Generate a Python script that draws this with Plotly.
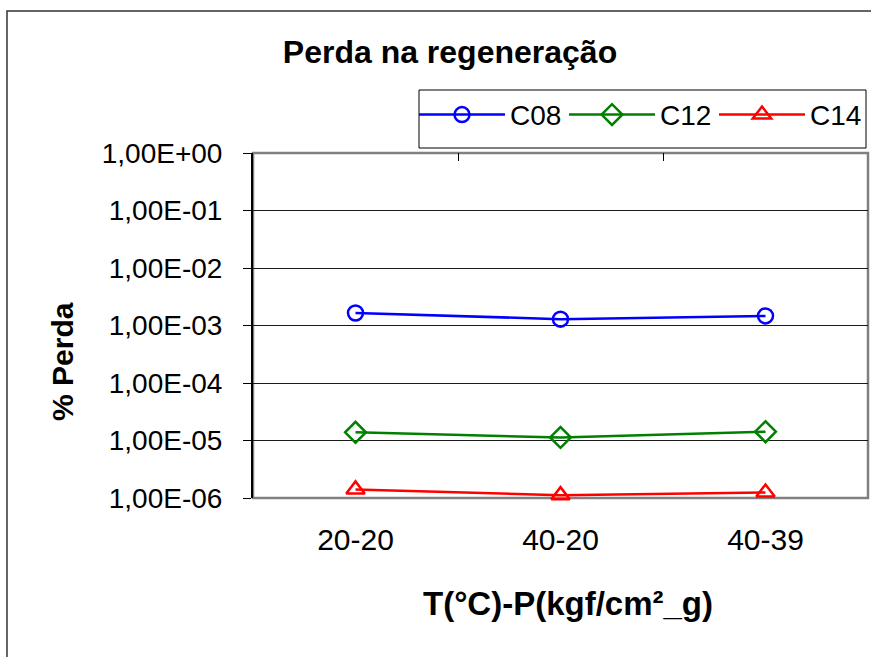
import plotly.graph_objects as go

# Regeneration losses per operating condition (temperature - pressure)
categories = ["20-20", "40-20", "40-39"]
series_names = ["C08", "C12", "C14"]
c08 = [1.65e-3, 1.29e-3, 1.47e-3]
c12 = [1.39e-5, 1.13e-5, 1.42e-5]
c14 = [1.41e-6, 1.12e-6, 1.25e-6]
y_tick_vals = [1e0, 1e-1, 1e-2, 1e-3, 1e-4, 1e-5, 1e-6]
y_tick_text = ["1,00E+00", "1,00E-01", "1,00E-02", "1,00E-03",
               "1,00E-04", "1,00E-05", "1,00E-06"]

FONT = "Liberation Sans, Arial, sans-serif"

# plot area in pixels: x 253..868, y 153..498
PW, PH = 615, 345

def px(x):
    return (x - 253) / PW

def py(y):
    return (498 - y) / PH

styles = [
    dict(color="#0000FF", symbol="circle-open", size=15, xaxis="x2"),
    dict(color="#008000", symbol="diamond-open", size=16, xaxis="x"),
    dict(color="#FF0000", symbol="triangle-up-open", size=16, xaxis="x"),
]

fig = go.Figure()
for name, vals, st in zip(series_names, [c08, c12, c14], styles):
    fig.add_trace(go.Scatter(
        x=categories, y=vals, name=name, mode="lines+markers",
        xaxis=st["xaxis"], yaxis="y",
        line=dict(color=st["color"], width=2.5),
        marker=dict(symbol=st["symbol"], size=st["size"], color=st["color"],
                    line=dict(color=st["color"], width=2.5)),
        cliponaxis=False,
    ))

fig.update_layout(
    width=871, height=657,
    margin=dict(l=253, r=3, t=153, b=159, autoexpand=False),
    paper_bgcolor="white", plot_bgcolor="white",
    font=dict(family=FONT, color="black"),
    title=dict(text="<b>Perda na regeneração</b>", x=450 / 871, xanchor="center",
               y=1 - 52 / 657, yanchor="middle",
               font=dict(family=FONT, size=32, color="black")),
    showlegend=True,
    legend=dict(orientation="h", x=px(414), xanchor="left", y=1.183, yanchor="top",
                borderwidth=0, bgcolor="rgba(0,0,0,0)",
                font=dict(family=FONT, size=28, color="black"),
                itemwidth=86, entrywidth=49, entrywidthmode="pixels",
                tracegroupgap=0),
    xaxis=dict(
        type="category", categoryorder="array", categoryarray=categories,
        range=[-0.5, 2.5],
        showgrid=False, showline=False, zeroline=False, ticks="",
        tickfont=dict(family=FONT, size=30, color="black"),
        ticklabelstandoff=21,
    ),
    # category boundaries marked along the top edge
    xaxis2=dict(
        type="category", categoryorder="array", categoryarray=categories,
        overlaying="x", side="top", anchor="y", range=[-0.5, 2.5],
        tickson="boundaries", ticks="inside", ticklen=8, tickwidth=1,
        tickcolor="black", showticklabels=False, showgrid=False,
        showline=False, zeroline=False,
    ),
    yaxis=dict(
        type="log", range=[-6, 0],
        tickvals=y_tick_vals, ticktext=y_tick_text,
        showgrid=True, gridcolor="#1a1a1a", gridwidth=1,
        showline=True, linecolor="black", linewidth=2,
        ticks="outside", ticklen=8, tickwidth=1, tickcolor="black",
        tickfont=dict(family=FONT, size=28, color="black"),
        ticklabelstandoff=15, zeroline=False,
    ),
    shapes=[
        # plot area frame
        dict(type="rect", xref="paper", yref="paper", x0=0, x1=1, y0=0, y1=1,
             line=dict(color="#808080", width=2.5), layer="below"),
        # legend box
        dict(type="rect", xref="paper", yref="paper", x0=px(419), x1=px(866),
             y0=py(148), y1=py(90), line=dict(color="black", width=1),
             fillcolor="white", layer="below"),
        # chart outer border
        dict(type="rect", xref="paper", yref="paper", x0=px(7), x1=1.2,
             y0=-0.6, y1=py(11), line=dict(color="#333333", width=1.5)),
    ],
    annotations=[
        dict(text="<b>% Perda</b>", xref="paper", yref="paper",
             x=px(62), y=py(362), textangle=-90,
             showarrow=False, xanchor="center", yanchor="middle",
             font=dict(family=FONT, size=30, color="black")),
        dict(text="<b>T(°C)-P(kgf/cm²_g)</b>", xref="paper", yref="paper",
             x=px(568), y=py(603),
             showarrow=False, xanchor="center", yanchor="middle",
             font=dict(family=FONT, size=33, color="black")),
    ],
)

fig.write_html("out.html")
